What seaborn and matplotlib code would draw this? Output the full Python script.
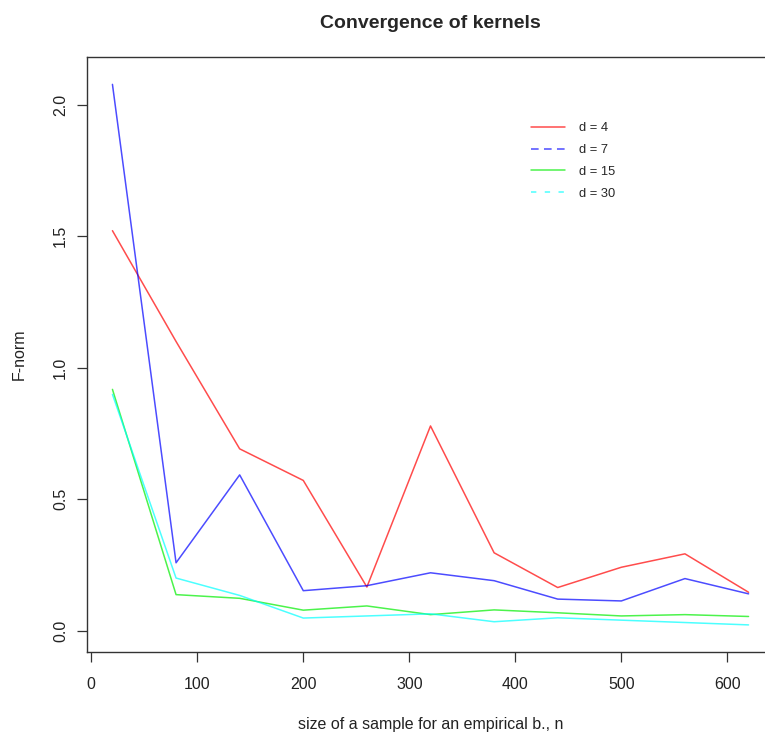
import numpy as np
import pandas as pd
import matplotlib
matplotlib.use('Agg')
import matplotlib.pyplot as plt
from matplotlib.lines import Line2D
from matplotlib.ticker import FormatStrFormatter
import seaborn as sns

# ─── Data ─────────────────────────────────────────────────────────────────────

sample_size = [20, 80, 140, 200, 260, 320, 380, 440, 500, 560, 620]
dims = ["d = 4", "d = 7", "d = 15", "d = 30"]

fnorm_d4  = [1.521, 1.100, 0.692, 0.572, 0.167, 0.779, 0.297, 0.165, 0.242, 0.293, 0.147]
fnorm_d7  = [2.077, 0.259, 0.593, 0.153, 0.172, 0.221, 0.191, 0.121, 0.114, 0.199, 0.141]
fnorm_d15 = [0.918, 0.138, 0.124, 0.079, 0.095, 0.062, 0.080, 0.069, 0.057, 0.062, 0.055]
fnorm_d30 = [0.899, 0.201, 0.135, 0.049, 0.057, 0.065, 0.035, 0.050, 0.041, 0.032, 0.023]

colors      = ["#FF0000", "#0000FF", "#00EE00", "#00FFFF"]
legend_ls   = ["-", (0, (5, 3.5)), "-", (0, (3.5, 5.5))]

df = pd.DataFrame({
    "n": sample_size * 4,
    "fnorm": fnorm_d4 + fnorm_d7 + fnorm_d15 + fnorm_d30,
    "dim": np.repeat(dims, len(sample_size)),
})

# ─── Style ────────────────────────────────────────────────────────────────────

sns.set_style("white")
plt.rcParams['font.family'] = ['Liberation Sans', 'DejaVu Sans']

fig = plt.figure(figsize=(7.65, 7.36), dpi=100)
ax = fig.add_axes([87 / 765, 84 / 736, 687 / 765, 595 / 736])

sns.lineplot(data=df, x="n", y="fnorm", hue="dim", hue_order=dims,
             palette=dict(zip(dims, colors)), alpha=0.7, linewidth=1.1,
             legend=False, ax=ax, sort=False)

ax.set_xlim(-4, 644)
ax.set_ylim(-0.080, 2.181)
ax.set_xticks([0, 100, 200, 300, 400, 500, 600])
ax.set_yticks([0.0, 0.5, 1.0, 1.5, 2.0])
ax.yaxis.set_major_formatter(FormatStrFormatter('%.1f'))

for sp in ax.spines.values():
    sp.set_color('#333333')
    sp.set_linewidth(1.0)

ax.tick_params(axis='both', direction='out', length=7.5, width=0.9,
               bottom=True, left=True,
               color='#333333', labelsize=11.5, labelcolor='#222222')
ax.tick_params(axis='x', pad=10.5)
ax.tick_params(axis='y', pad=6)
for lbl in ax.get_yticklabels():
    lbl.set_rotation(90)
    lbl.set_va('center')

ax.set_xlabel("size of a sample for an empirical b., n", fontsize=11.5,
              labelpad=18, color='#222222')
ax.set_ylabel("F-norm", fontsize=11.5, labelpad=19, color='#222222')
ax.set_title("Convergence of kernels", fontsize=14, fontweight='bold',
             pad=21)

# legend: R-style, no frame
handles = [Line2D([], [], color=c, ls=ls, lw=1.1, alpha=0.7)
           for c, ls in zip(colors, legend_ls)]
ax.legend(handles, dims, loc='upper left', bbox_to_anchor=(0.63, 0.91),
          frameon=False, fontsize=9.3, handlelength=2.56, handletextpad=1.16,
          labelspacing=0.76)

plt.savefig('out.png', dpi=100)
plt.close()
